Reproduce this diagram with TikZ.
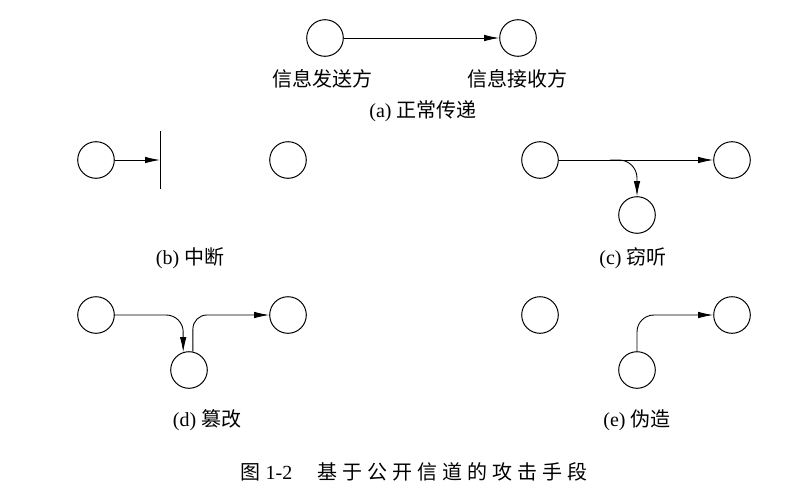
\documentclass[tikz,border=0pt]{standalone}
\usepackage{fontspec}
\setmainfont{Liberation Serif}
\newfontfamily\cjk{Noto Sans CJK SC}
\usetikzlibrary{arrows.meta}
\tikzset{
  party/.style={draw, circle, line width=1pt, minimum size=36.6pt, inner sep=0pt},
  arr/.style={draw, line width=0.9pt, -{Latex[length=15pt,width=6.5pt]}},
  plain/.style={draw, line width=0.9pt},
  lbl/.style={font=\fontsize{20}{23}\selectfont, inner sep=0pt, anchor=center},
}
\begin{document}
\begin{tikzpicture}[x=1pt,y=-1pt]
\useasboundingbox[fill=white] (0,0) rectangle (807,498);
% (a)
\node[party] (a1) at (325,38) {};
\node[party] (a2) at (518,38) {};
\draw[arr] (a1) -- (a2);
\node[lbl] (a1t) at (322,79) {\cjk 信息发送方};
\node[lbl] (a2t) at (517,79) {\cjk 信息接收方};
\node[lbl] (acap) at (423,111) {(a) {\cjk 正常传递}};
% (b)
\node[party] (b1) at (96,160) {};
\node[party] (b2) at (288,160) {};
\coordinate (bbt) at (160,131);
\coordinate (bbb) at (160,189);
\coordinate (bbm) at (160,160);
\draw[plain] (bbt) -- (bbb);
\draw[arr] (b1) -- (bbm);
\node[lbl] (bcap) at (190,258) {(b) {\cjk 中断}};
% (c)
\node[party] (c1) at (540,160) {};
\node[party] (c2) at (732,160) {};
\node[party] (c3) at (637,215) {};
\coordinate (cb) at (610,160);
\draw[arr] (c1) -- (c2);
\draw[arr, rounded corners=18pt] (cb) -| (c3.north);
\node[lbl] (ccap) at (633,258) {(c) {\cjk 窃听}};
% (d)
\node[party] (d1) at (96,315) {};
\node[party] (d2) at (288,315) {};
\node[party] (d3) at (189,370) {};
\draw[arr, rounded corners=17pt] (d1.east) -| (d3.108);
\draw[arr, rounded corners=14pt] (d3.78) |- (d2.west);
\node[lbl] (dcap) at (207,420) {(d) {\cjk 篡改}};
% (e)
\node[party] (e1) at (540,315) {};
\node[party] (e2) at (732,315) {};
\node[party] (e3) at (637,370) {};
\draw[arr, rounded corners=17pt] (e3.north) |- (e2.west);
\node[lbl] (ecap) at (637,420) {(e) {\cjk 伪造}};
% caption
\node[lbl] (fig) at (414,472) {{\cjk 图}\kern5pt 1-2\kern25pt{\cjk 基\kern5pt 于\kern5pt 公\kern5pt 开\kern5pt 信\kern5pt 道\kern5pt 的\kern5pt 攻\kern5pt 击\kern5pt 手\kern5pt 段}};
\end{tikzpicture}
\end{document}
